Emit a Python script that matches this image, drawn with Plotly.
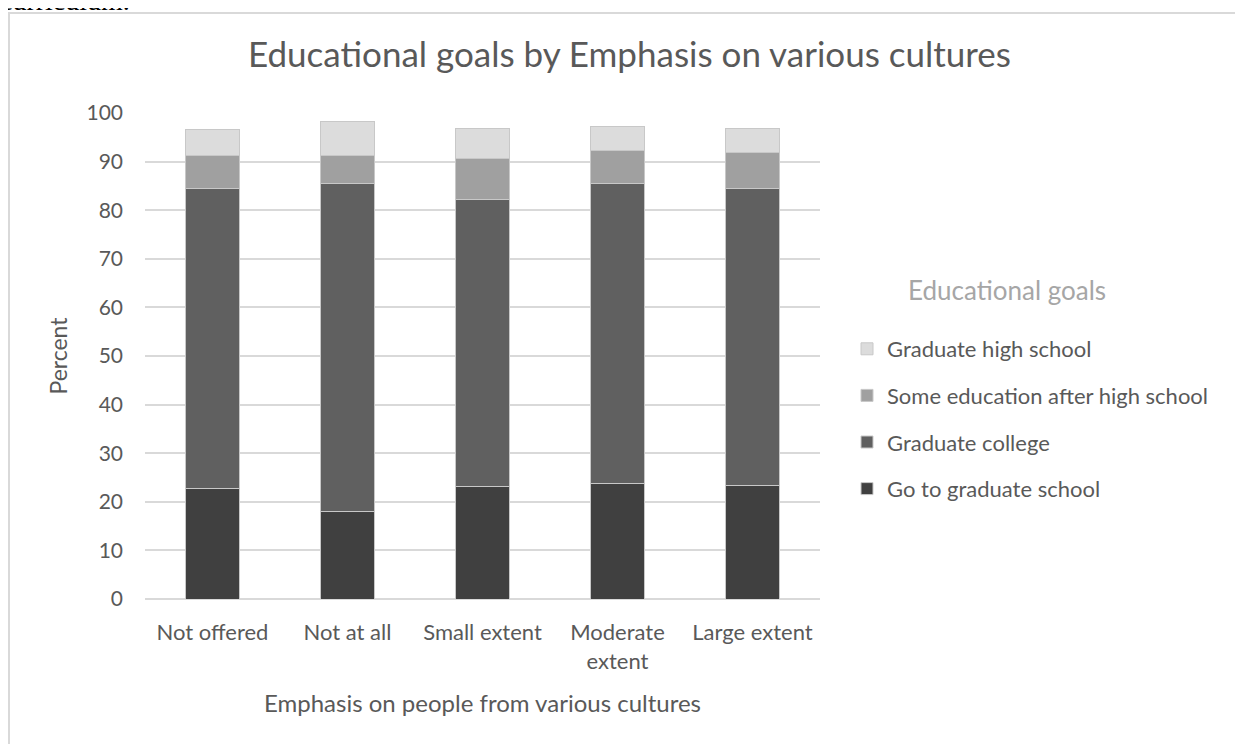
import plotly.graph_objects as go

categories = ["Not offered", "Not at all", "Small extent", "Moderate<br>extent", "Large extent"]
go_to_graduate_school = [22.8, 18.1, 23.1, 23.7, 23.4]
graduate_college = [61.7, 67.3, 59.2, 61.7, 61.1]
some_education_after_hs = [6.8, 5.9, 8.4, 6.8, 7.3]
graduate_high_school = [5.3, 7.0, 6.2, 5.1, 5.1]

series = [
    ("Go to graduate school", go_to_graduate_school, "#404040"),
    ("Graduate college", graduate_college, "#606060"),
    ("Some education after high school", some_education_after_hs, "#A0A0A0"),
    ("Graduate high school", graduate_high_school, "#DCDCDC"),
]

FONT = "Lato"
GRAY = "#595959"
W, H = 1243, 744

fig = go.Figure()
for i, (name, vals, col) in enumerate(series):
    fig.add_trace(go.Bar(
        x=categories, y=vals, name=name, legendgroup=str(i),
        legendrank=10 * (len(series) - i),
        marker=dict(color=col, line=dict(color="#C8C8C8", width=1)),
    ))

# figure-pixel geometry (page has an 8px body margin)
L, R, T, B = 137, W - 812, 105, H - 591
pw, ph = W - L - R, H - T - B

def px(x):
    return (x - L) / pw

def py(y):
    return (H - B - y) / ph

fig.update_layout(
    width=W, height=H,
    margin=dict(l=L, r=R, t=T, b=B, autoexpand=False),
    barmode="stack", bargap=0.6,
    paper_bgcolor="white", plot_bgcolor="white",
    font=dict(family=FONT, color=GRAY, size=21),
    title=dict(text="Educational goals by Emphasis on various cultures",
               x=0.5, xref="container", xanchor="center",
               y=1 - 47 / H, yanchor="middle",
               font=dict(family=FONT, size=35, color=GRAY)),
    xaxis=dict(showgrid=False, showline=False, zeroline=False, ticks="",
               ticklabelstandoff=18,
               tickfont=dict(size=22, color=GRAY),
               title=dict(text="Emphasis on people from various cultures",
                          font=dict(size=24, color=GRAY), standoff=22)),
    yaxis=dict(range=[0, 100], dtick=10, showgrid=True, gridcolor="#D9D9D9",
               gridwidth=1.5, zeroline=True, zerolinecolor="#D9D9D9",
               zerolinewidth=1.5, showline=False, ticks="",
               ticklabelstandoff=21,
               tickfont=dict(size=21, color=GRAY),
               title=dict(text="Percent", font=dict(size=23, color=GRAY), standoff=12)),
    legend=dict(x=px(839), xanchor="left", y=py(320), yanchor="top",
                traceorder="grouped", tracegroupgap=15,
                font=dict(size=22, color=GRAY)),
    showlegend=True,
)

fig.add_annotation(text="Educational goals", xref="paper", yref="paper",
                   x=px(898), y=py(282), xanchor="left", yanchor="middle",
                   showarrow=False,
                   font=dict(family=FONT, size=26, color="#A6A6A6"))

fig.add_shape(type="rect", xref="paper", yref="paper",
              x0=px(1), x1=px(1260), y0=py(5), y1=py(770),
              line=dict(color="#D9D9D9", width=2), fillcolor="rgba(0,0,0,0)",
              layer="below")

fig.add_annotation(text="curriculum.", xref="paper", yref="paper",
                   x=px(-10), y=py(10), xanchor="left", yanchor="bottom",
                   showarrow=False,
                   font=dict(family="Liberation Serif", size=28, color="black"))

fig.write_html("out.html")
